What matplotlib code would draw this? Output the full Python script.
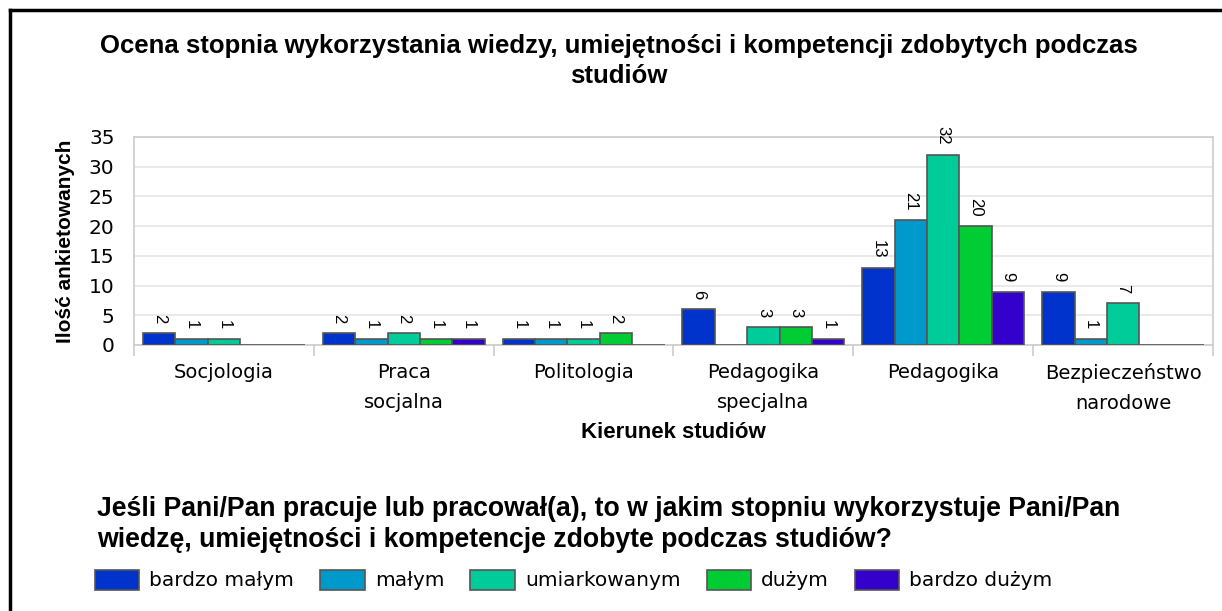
import matplotlib.pyplot as plt
import numpy as np
from matplotlib.lines import Line2D

kierunki = ['Socjologia', 'Praca\nsocjalna', 'Politologia', 'Pedagogika\nspecjalna',
            'Pedagogika', 'Bezpieczeństwo\nnarodowe']
serie = ['bardzo małym', 'małym', 'umiarkowanym', 'dużym', 'bardzo dużym']
bardzo_malym = [2, 2, 1, 6, 13, 9]
malym = [1, 1, 1, 0, 21, 1]
umiarkowanym = [1, 2, 1, 3, 32, 7]
duzym = [0, 1, 2, 3, 20, 0]
bardzo_duzym = [0, 1, 0, 1, 9, 0]
kolory = ['#0033CC', '#0099CC', '#00CC99', '#00CC33', '#3300CC']

wartosci = [bardzo_malym, malym, umiarkowanym, duzym, bardzo_duzym]

fig = plt.figure(figsize=(12.22, 6.11), dpi=100)
ax = fig.add_axes([134 / 1222, 1 - 345 / 611, 1079 / 1222, 208 / 611])

x = np.arange(len(kierunki))
w = 0.9 / 5
for i, (vals, kol, nazwa) in enumerate(zip(wartosci, kolory, serie)):
    pos = x - 0.45 + w * (i + 0.5)
    ax.bar(pos, vals, w, color=kol, edgecolor='#555555', linewidth=1.2,
           label=nazwa, zorder=3)
    for p, v in zip(pos, vals):
        if v > 0:
            ax.annotate(str(v), (p, v), xytext=(0, 7), textcoords='offset points',
                        rotation=270, ha='center', va='bottom', fontsize=12,
                        family='Liberation Sans', annotation_clip=False)

ax.set_xlim(-0.5, len(kierunki) - 0.5)
ax.set_ylim(0, 35)
ax.set_yticks(range(0, 36, 5))
ax.yaxis.grid(True, color='#e6e6e6', linewidth=1.2, zorder=0)
ax.set_axisbelow(True)
for s in ax.spines.values():
    s.set_color('#cccccc')
    s.set_linewidth(1.2)

ax.set_xticks(x)
ax.set_xticklabels(kierunki, fontsize=14, linespacing=1.75, va='top')
ax.set_xticks(np.arange(-0.5, len(kierunki)), minor=True)
ax.tick_params(axis='x', which='major', length=0, pad=13)
ax.tick_params(axis='x', which='minor', length=8, color='#cccccc', width=1.2)
ax.tick_params(axis='y', length=0, labelsize=14.5, pad=14)

ax.set_xlabel('Kierunek studiów', fontsize=16, fontweight='bold',
              family='Liberation Sans', labelpad=6)
ax.set_ylabel('Ilość ankietowanych', fontsize=15, fontweight='bold',
              family='Liberation Sans', labelpad=10)

fig.text(619 / 1222, 1 - 34 / 611,
         'Ocena stopnia wykorzystania wiedzy, umiejętności i kompetencji zdobytych podczas\nstudiów',
         ha='center', va='top', fontsize=18.5, fontweight='bold',
         family='Liberation Sans', linespacing=1.3)

fig.text(97 / 1222, 1 - 496 / 611,
         'Jeśli Pani/Pan pracuje lub pracował(a), to w jakim stopniu wykorzystuje Pani/Pan\n'
         'wiedzę, umiejętności i kompetencje zdobyte podczas studiów?',
         ha='left', va='top', fontsize=19.2, fontweight='bold',
         family='Liberation Sans', linespacing=1.25)

leg = fig.legend(loc='center left', bbox_to_anchor=(95 / 1222, 1 - 580 / 611), ncol=5,
                 frameon=False, fontsize=14.5, handlelength=2.2, handleheight=1.15,
                 handletextpad=0.5, columnspacing=1.3, borderpad=0, borderaxespad=0)

fig.add_artist(Line2D([10 / 1222, 1], [1 - 10 / 611, 1 - 10 / 611], color='black', linewidth=2.5))
fig.add_artist(Line2D([10 / 1222, 10 / 1222], [0, 1 - 10 / 611], color='black', linewidth=2.5))

fig.savefig('out.png', dpi=100)
